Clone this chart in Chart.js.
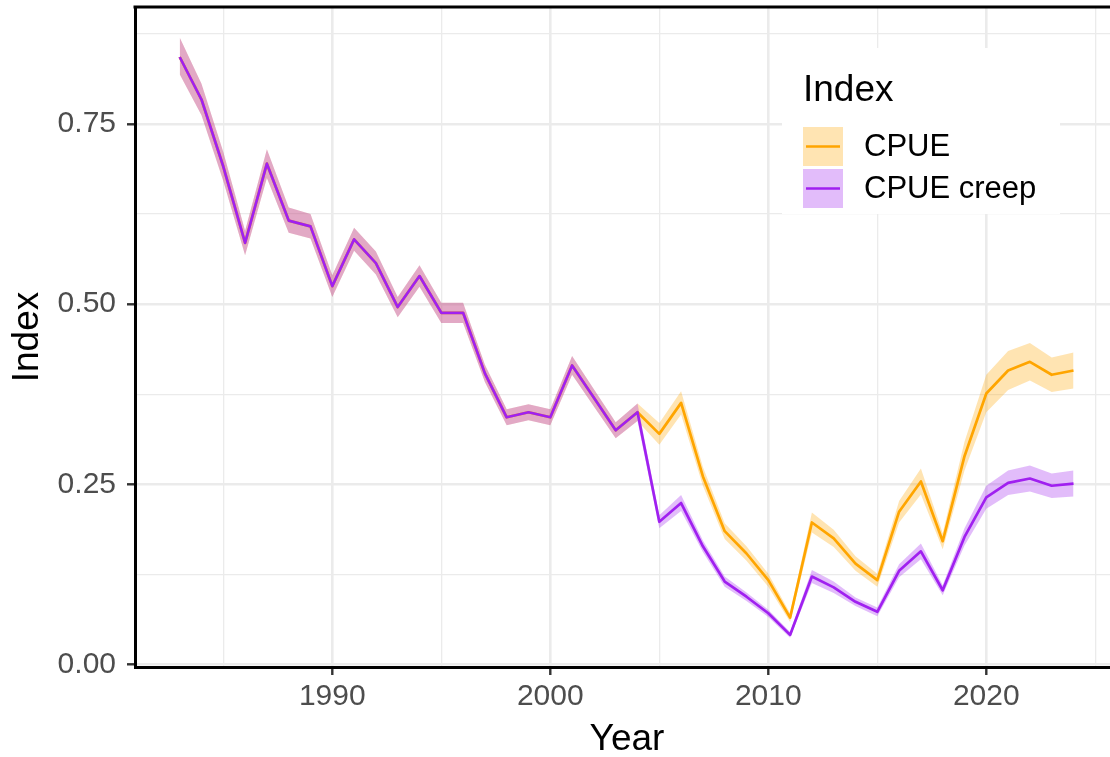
<!DOCTYPE html>
<html>
<head>
<meta charset="utf-8">
<script src="https://cdn.jsdelivr.net/npm/chart.js@4.4.1/dist/chart.umd.min.js"></script>
<style>
  html, body { margin: 0; padding: 0; background: #fff; overflow: hidden; }
  #wrap { position: relative; width: 1110px; height: 757px; }
  canvas { display: block; }
</style>
</head>
<body>
<div id="wrap"><canvas id="indexChart" width="1110" height="757"></canvas></div>
<script>
// Data
const years = [1983, 1984, 1985, 1986, 1987, 1988, 1989, 1990, 1991, 1992, 1993, 1994, 1995, 1996,
  1997, 1998, 1999, 2000, 2001, 2002, 2003, 2004, 2005, 2006, 2007, 2008, 2009, 2010, 2011, 2012,
  2013, 2014, 2015, 2016, 2017, 2018, 2019, 2020, 2021, 2022, 2023, 2024];

const cpue = [0.843, 0.784, 0.691, 0.585, 0.695, 0.616, 0.608, 0.525, 0.590, 0.557, 0.496, 0.539,
  0.488, 0.488, 0.404, 0.343, 0.350, 0.343, 0.415, 0.370, 0.325, 0.350,
  0.320, 0.363, 0.261, 0.185, 0.154, 0.117, 0.065, 0.197, 0.175, 0.140, 0.117, 0.212, 0.254,
  0.171, 0.289, 0.376, 0.408, 0.420, 0.402, 0.408];
const cpueLower = [0.819, 0.762, 0.671, 0.568, 0.675, 0.599, 0.591, 0.510, 0.574, 0.541, 0.482, 0.524,
  0.474, 0.474, 0.392, 0.332, 0.339, 0.332, 0.402, 0.358, 0.314, 0.338,
  0.305, 0.347, 0.248, 0.174, 0.144, 0.108, 0.059, 0.183, 0.163, 0.130, 0.108, 0.197, 0.236,
  0.160, 0.269, 0.350, 0.381, 0.394, 0.378, 0.383];
const cpueUpper = [0.870, 0.806, 0.711, 0.602, 0.715, 0.634, 0.625, 0.540, 0.606, 0.573, 0.510, 0.554,
  0.502, 0.502, 0.416, 0.354, 0.361, 0.354, 0.428, 0.382, 0.336, 0.362,
  0.335, 0.379, 0.274, 0.196, 0.164, 0.126, 0.071, 0.211, 0.187, 0.150, 0.126, 0.227, 0.272,
  0.182, 0.309, 0.402, 0.435, 0.446, 0.426, 0.433];

const creep = [0.843, 0.784, 0.691, 0.585, 0.695, 0.616, 0.608, 0.525, 0.590, 0.557, 0.496, 0.539,
  0.488, 0.488, 0.404, 0.343, 0.350, 0.343, 0.415, 0.370, 0.325, 0.350,
  0.198, 0.224, 0.164, 0.115, 0.094, 0.071, 0.041, 0.122, 0.107, 0.087, 0.073, 0.130, 0.157,
  0.103, 0.177, 0.232, 0.252, 0.258, 0.248, 0.251];
const creepLower = [0.819, 0.762, 0.671, 0.568, 0.675, 0.599, 0.591, 0.510, 0.574, 0.541, 0.482, 0.524,
  0.474, 0.474, 0.392, 0.332, 0.339, 0.332, 0.402, 0.358, 0.314, 0.338,
  0.189, 0.213, 0.156, 0.108, 0.088, 0.066, 0.037, 0.113, 0.099, 0.081, 0.067, 0.121, 0.146,
  0.096, 0.165, 0.216, 0.235, 0.240, 0.231, 0.233];
const creepUpper = [0.870, 0.806, 0.711, 0.602, 0.715, 0.634, 0.625, 0.540, 0.606, 0.573, 0.510, 0.554,
  0.502, 0.502, 0.416, 0.354, 0.361, 0.354, 0.428, 0.382, 0.336, 0.362,
  0.207, 0.235, 0.172, 0.122, 0.100, 0.076, 0.045, 0.131, 0.115, 0.093, 0.079, 0.139, 0.168,
  0.110, 0.189, 0.248, 0.269, 0.276, 0.265, 0.269];

const xTicks = [1985, 1990, 1995, 2000, 2005, 2010, 2015, 2020, 2025];
const yTicks = [0, 0.125, 0.25, 0.375, 0.5, 0.625, 0.75, 0.875];

const ORANGE = '#FFA500';
const PURPLE = '#A020F0';
const ORANGE_FILL = 'rgba(255,165,0,0.3)';
const PURPLE_FILL = 'rgba(160,32,240,0.3)';
const FONT = 'Arial, "Liberation Sans", sans-serif';

Chart.defaults.font.family = FONT;

const pts = (arr) => years.map((yr, i) => ({ x: yr, y: arr[i] }));

const lineDs = (label, arr, color) => ({
  label, data: pts(arr), borderColor: color, borderWidth: 2.7,
  pointRadius: 0, tension: 0, fill: false, borderJoinStyle: 'round'
});
const bandDs = (label, arr, fill, bg) => ({
  label, data: pts(arr), borderColor: 'rgba(0,0,0,0)', borderWidth: 0,
  pointRadius: 0, tension: 0, fill, backgroundColor: bg
});

const isMajorX = (v) => v % 10 === 0;
const isMajorY = (v) => Math.round(v * 8) % 2 === 0;

// titles, top border and the ggplot-style legend
const decor = {
  id: 'decor',
  afterDraw(chart) {
    const { ctx, chartArea } = chart;
    ctx.save();
    ctx.strokeStyle = '#000';
    ctx.lineWidth = 3;
    ctx.beginPath();
    ctx.moveTo(chartArea.left - 1.5, chartArea.top);
    ctx.lineTo(chartArea.right, chartArea.top);
    ctx.stroke();

    ctx.fillStyle = '#000';
    ctx.font = '37px ' + FONT;
    ctx.textAlign = 'center';
    ctx.textBaseline = 'alphabetic';
    ctx.fillText('Year', 627, 750);
    ctx.save();
    ctx.translate(38, 337);
    ctx.rotate(-Math.PI / 2);
    ctx.fillText('Index', 0, 0);
    ctx.restore();

    // legend
    ctx.fillStyle = '#fff';
    ctx.fillRect(782, 48, 278, 166);
    ctx.fillStyle = '#000';
    ctx.textAlign = 'left';
    ctx.fillText('Index', 803, 101);
    const keys = [['CPUE', ORANGE, ORANGE_FILL, 127], ['CPUE creep', PURPLE, PURPLE_FILL, 169]];
    ctx.font = '31px ' + FONT;
    keys.forEach(([txt, col, fillCol, top]) => {
      ctx.fillStyle = fillCol;
      ctx.fillRect(803, top, 40, 39);
      ctx.strokeStyle = col;
      ctx.lineWidth = 2.4;
      ctx.beginPath();
      ctx.moveTo(806, top + 19.5);
      ctx.lineTo(840, top + 19.5);
      ctx.stroke();
      ctx.fillStyle = '#000';
      ctx.textBaseline = 'middle';
      ctx.fillText(txt, 864, top + 20);
    });
    ctx.restore();
  }
};

new Chart(document.getElementById('indexChart'), {
  type: 'line',
  data: {
    datasets: [
      lineDs('CPUE creep', creep, PURPLE),
      lineDs('CPUE', cpue, ORANGE),
      bandDs('creep upper', creepUpper, 3, PURPLE_FILL),
      bandDs('creep lower', creepLower, false, PURPLE_FILL),
      bandDs('cpue upper', cpueUpper, 5, ORANGE_FILL),
      bandDs('cpue lower', cpueLower, false, ORANGE_FILL)
    ]
  },
  options: {
    responsive: false,
    animation: false,
    devicePixelRatio: 1,
    layout: { padding: { top: 7, left: 0, right: 0, bottom: 0 } },
    plugins: {
      legend: { display: false },
      tooltip: { enabled: false },
      filler: { drawTime: 'beforeDatasetsDraw' }
    },
    scales: {
      x: {
        type: 'linear',
        min: 1980.95,
        max: 2025.674,
        afterBuildTicks: (s) => { s.ticks = xTicks.map(v => ({ value: v })); },
        afterFit: (s) => { s.height = 90; s.paddingLeft = 0; s.paddingRight = 0; },
        ticks: {
          autoSkip: false, maxRotation: 0, padding: 4,
          color: '#4D4D4D', font: { size: 30 },
          callback: (v) => isMajorX(v) ? String(v) : ''
        },
        grid: {
          color: '#EBEBEB',
          lineWidth: (c) => isMajorX(c.tick.value) ? 2.6 : 1.3,
          tickColor: (c) => isMajorX(c.tick.value) ? '#333333' : 'rgba(0,0,0,0)',
          tickLength: 8, tickWidth: 2.4
        },
        border: { display: true, color: '#000', width: 3 }
      },
      y: {
        min: -0.00354,
        max: 0.9124,
        afterBuildTicks: (s) => { s.ticks = yTicks.map(v => ({ value: v })); },
        afterFit: (s) => { s.width = 135; s.paddingTop = 0; s.paddingBottom = 0; },
        ticks: {
          autoSkip: false, padding: 11,
          color: '#4D4D4D', font: { size: 30 },
          callback: (v) => isMajorY(v) ? v.toFixed(2) : ''
        },
        grid: {
          color: '#EBEBEB',
          lineWidth: (c) => isMajorY(c.tick.value) ? 2.6 : 1.3,
          tickColor: (c) => isMajorY(c.tick.value) ? '#333333' : 'rgba(0,0,0,0)',
          tickLength: 8, tickWidth: 2.4
        },
        border: { display: true, color: '#000', width: 3 }
      }
    }
  },
  plugins: [decor]
});
</script>
</body>
</html>
